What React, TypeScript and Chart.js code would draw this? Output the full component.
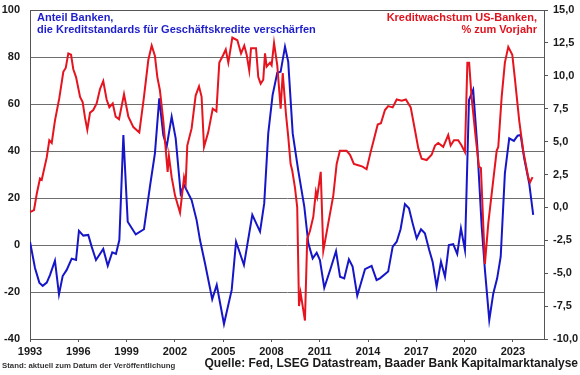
import React, { useEffect, useRef } from "react";
import { Chart, registerables } from "chart.js";

Chart.register(...registerables);

// Blue: share of banks tightening credit standards for C&I loans (left axis, %)
const blueYears = [
  1993.0, 1993.31, 1993.58, 1993.79, 1994.04, 1994.24, 1994.55, 1994.8, 1995.03, 1995.28,
  1995.59, 1995.86, 1996.04, 1996.31, 1996.62, 1996.83, 1997.1, 1997.55, 1997.83, 1998.11,
  1998.34, 1998.55, 1998.8, 1999.07, 1999.57, 2000.08, 2000.45, 2000.76, 2001.03, 2001.28,
  2001.49, 2001.8, 2002.05, 2002.36, 2002.57, 2003.04, 2003.35, 2003.56, 2003.87, 2004.32,
  2004.6, 2005.05, 2005.53, 2005.8, 2006.29, 2006.81, 2007.29, 2007.55, 2007.8, 2008.07,
  2008.36, 2008.57, 2008.84, 2009.04, 2009.32, 2009.66, 2010.04, 2010.29, 2010.56, 2010.81,
  2011.01, 2011.28, 2011.68, 2012.01, 2012.26, 2012.52, 2012.81, 2013.04, 2013.33, 2013.81,
  2014.22, 2014.53, 2014.74, 2015.25, 2015.53, 2015.78, 2016.02, 2016.29, 2016.54, 2016.77,
  2017.02, 2017.29, 2017.53, 2017.8, 2018.01, 2018.26, 2018.53, 2018.78, 2019.02, 2019.29,
  2019.54, 2019.77, 2020.02, 2020.27, 2020.53, 2020.78, 2021.06, 2021.26, 2021.53, 2021.78,
  2022.02, 2022.24, 2022.5, 2022.77, 2023.06, 2023.29, 2023.48, 2023.7, 2024.01, 2024.26,
];
const blueValues = [
  1.4, -9.8, -16, -17.4, -16, -12.8, -6.7, -21, -13.2, -10.6,
  -5.8, -6.4, 6, 4, 4.3, -0.7, -6.4, -1.7, -8.8, -3.1,
  -3.8, 2.1, 46.8, 9.9, 4.5, 6.7, 24.8, 39, 62.4, 46.8,
  41.8, 54.6, 45.4, 22, 25.5, 19.1, 10.6, 2.1, -7.8, -23.1,
  -17, -33.6, -19.1, 1.4, -8.5, 12.8, 5.7, 17.7, 47.5, 63.8,
  73.3, 73.7, 84.4, 78, 47.5, 31.9, 16.3, 0.7, -5.7, -3.3,
  -6.4, -18.2, -9.9, -2.6, -13.5, -14.2, -6.1, -9.2, -21.6, -10.3,
  -8.9, -14.9, -14.2, -11.3, -0.7, 1.4, 6.7, 17.4, 15.6, 9.2,
  2.8, 6.7, 5, -2.1, -7.1, -17.7, -7.1, -13.5, 0, 0.4,
  -3.8, 7.1, -2.1, 61.7, 66, 42.6, 7.8, -10.6, -31.9, -20.6,
  -14.2, -5, 30.5, 45.4, 44.3, 46.5, 46.8, 36.9, 26.3, 12.8,
];

// Red: credit growth of US banks, % y/y (right axis)
const redYears = [
  1993.0, 1993.25, 1993.42, 1993.62, 1993.73, 1994.04, 1994.2, 1994.35, 1994.55, 1994.82,
  1995.07, 1995.22, 1995.38, 1995.55, 1995.69, 1995.86, 1996.11, 1996.27, 1996.42, 1996.56,
  1996.73, 1996.93, 1997.14, 1997.35, 1997.55, 1997.76, 1997.93, 1998.14, 1998.32, 1998.53,
  1998.84, 1999.11, 1999.42, 1999.79, 2000.08, 2000.35, 2000.56, 2000.76, 2000.91, 2001.07,
  2001.28, 2001.55, 2001.63, 2001.8, 2002.01, 2002.32, 2002.57, 2002.67, 2002.77, 2003.04,
  2003.29, 2003.5, 2003.66, 2003.81, 2004.07, 2004.35, 2004.58, 2004.76, 2005.01, 2005.16,
  2005.32, 2005.57, 2005.88, 2006.11, 2006.31, 2006.46, 2006.62, 2006.73, 2007.04, 2007.18,
  2007.33, 2007.49, 2007.6, 2007.7, 2007.91, 2008.01, 2008.16, 2008.36, 2008.57, 2008.7,
  2008.9, 2009.04, 2009.19, 2009.29, 2009.46, 2009.6, 2009.71, 2009.81, 2010.08, 2010.22,
  2010.39, 2010.6, 2010.76, 2010.84, 2011.06, 2011.22, 2011.53, 2011.84, 2012.05, 2012.25,
  2012.5, 2012.67, 2012.88, 2013.12, 2013.39, 2013.66, 2013.91, 2014.16, 2014.37, 2014.6,
  2014.8, 2015.05, 2015.25, 2015.53, 2015.78, 2016.09, 2016.35, 2016.65, 2016.91, 2017.12,
  2017.33, 2017.64, 2017.95, 2018.16, 2018.36, 2018.67, 2018.98, 2019.13, 2019.34, 2019.6,
  2019.81, 2020.02, 2020.17, 2020.28, 2020.43, 2020.68, 2020.89, 2021.01, 2021.26, 2021.47,
  2021.78, 2021.99, 2022.09, 2022.3, 2022.5, 2022.71, 2022.96, 2023.12, 2023.39, 2023.64,
  2023.95, 2024.06, 2024.22,
];
const redValues = [
  -0.36, -0.2, 1.04, 2.2, 2.1, 3.8, 5.1, 4.9, 6.6, 8.3,
  10.3, 10.6, 11.7, 11.6, 10.5, 9.9, 8.4, 8.0, 6.8, 5.9,
  7.2, 7.4, 7.9, 9.0, 9.6, 8.2, 7.6, 7.9, 6.9, 6.7,
  8.6, 6.9, 6.1, 5.7, 8.4, 11.2, 12.3, 11.5, 9.9, 8.9,
  6.6, 2.7, 3.9, 2.3, 0.9, -0.4, 2.3, 1.8, 4.7, 6.0,
  8.5, 9.2, 8.4, 4.6, 5.7, 7.5, 7.3, 11.0, 11.6, 12.0,
  11.0, 12.9, 12.7, 11.7, 12.3, 11.6, 10.4, 12.1, 12.1, 9.9,
  9.4, 9.7, 11.7, 10.7, 11.0, 10.8, 12.5, 10.8, 7.5, 10.2,
  7.1, 5.4, 3.3, 2.8, 1.5, 0.0, -7.5, -6.5, -8.6, -2.4,
  -1.8, -0.7, 1.2, 0.8, 2.7, -3.3, -1.2, 0.9, 3.3, 4.3,
  4.3, 4.3, 4.0, 3.3, 3.2, 3.1, 2.9, 4.2, 5.2, 6.3,
  6.4, 7.4, 7.7, 7.6, 8.2, 8.1, 8.2, 7.6, 5.9, 4.5,
  3.7, 3.6, 4.0, 4.7, 4.9, 4.6, 5.5, 4.7, 5.1, 5.1,
  4.7, 4.2, 11.0, 11.0, 8.4, 5.4, 3.1, 3.0, -4.3, -1.2,
  2.1, 4.3, 4.6, 8.4, 11.0, 12.2, 11.6, 9.8, 6.6, 4.3,
  2.3, 1.9, 2.3,
];

const xTickYears = [1993, 1996, 1999, 2002, 2005, 2008, 2011, 2014, 2017, 2020, 2023];
const xMin = 1993;
const xMax = 2024.93;

const BLUE = "#1616C8";
const RED = "#E6141E";
const AXIS_TEXT = "#1a1a1a";
const FONT = "'Liberation Sans', Arial, sans-serif";

const frame = {
  id: "frame",
  afterDraw(chart: any) {
    const { ctx, chartArea } = chart;
    ctx.save();
    ctx.strokeStyle = "#555";
    ctx.lineWidth = 1;
    ctx.beginPath();
    ctx.moveTo(chartArea.left, Math.round(chartArea.top) + 0.5);
    ctx.lineTo(chartArea.right, Math.round(chartArea.top) + 0.5);
    ctx.stroke();
    ctx.restore();
  },
};

export default function App() {
  const ref = useRef<HTMLCanvasElement>(null);

  useEffect(() => {
    const red = redYears.map((x, i) => ({ x, y: redValues[i] }));
    const blue = blueYears.map((x, i) => ({ x, y: blueValues[i] }));
    const chart = new Chart(ref.current as HTMLCanvasElement, {
      type: "line",
      data: {
        datasets: [
          {
            label: "Kreditwachstum US-Banken, % zum Vorjahr",
            data: red,
            yAxisID: "y1",
            borderColor: RED,
            borderWidth: 2,
            pointRadius: 0,
            tension: 0,
            order: 0,
          },
          {
            label: "Anteil Banken, die Kreditstandards für Geschäftskredite verschärfen",
            data: blue,
            yAxisID: "y",
            borderColor: BLUE,
            borderWidth: 2,
            pointRadius: 0,
            tension: 0,
            order: 1,
          },
        ],
      },
      options: {
        responsive: false,
        animation: false,
        layout: { padding: { top: 10, left: 0, right: 0, bottom: 0 } },
        plugins: { legend: { display: false }, tooltip: { enabled: false } },
        scales: {
          x: {
            type: "linear",
            min: xMin,
            max: xMax,
            afterBuildTicks: (scale: any) => {
              scale.ticks = xTickYears.map((v) => ({ value: v }));
            },
            afterFit: (scale: any) => {
              scale.height = 36;
            },
            grid: { drawOnChartArea: false, drawTicks: true, tickLength: 3, color: "#555" },
            border: { display: true, color: "#555", width: 1 },
            ticks: {
              autoSkip: false,
              maxRotation: 0,
              padding: 3,
              color: AXIS_TEXT,
              font: { family: FONT, size: 11, weight: "bold" },
              callback: (v: any) => String(v),
            },
          },
          y: {
            position: "left",
            min: -40,
            max: 100,
            afterFit: (scale: any) => {
              scale.width = 30;
              scale.paddingTop = 0;
              scale.paddingBottom = 0;
            },
            grid: { drawTicks: false, color: "#6e6e6e", lineWidth: 1 },
            border: { display: true, color: "#555", width: 1 },
            ticks: {
              stepSize: 20,
              padding: 10,
              color: AXIS_TEXT,
              font: { family: FONT, size: 11, weight: "bold" },
            },
          },
          y1: {
            position: "right",
            min: -10,
            max: 15,
            afterFit: (scale: any) => {
              scale.width = 36;
              scale.paddingTop = 0;
              scale.paddingBottom = 0;
            },
            grid: { drawOnChartArea: false, drawTicks: true, tickLength: 4, color: "#555" },
            border: { display: true, color: "#555", width: 1 },
            ticks: {
              stepSize: 2.5,
              padding: 5,
              color: AXIS_TEXT,
              font: { family: FONT, size: 11, weight: "bold" },
              callback: (v: any) => Number(v).toFixed(1).replace(".", ","),
            },
          },
        },
      },
      plugins: [frame],
    });
    return () => chart.destroy();
  }, []);

  return (
    <div
      style={{
        position: "absolute",
        left: 0,
        top: 0,
        width: 580,
        height: 375,
        background: "#fff",
        fontFamily: FONT,
        overflow: "hidden",
      }}
    >
      <canvas ref={ref} width={580} height={375} style={{ position: "absolute", left: 0, top: 0 }} />
      <div
        style={{
          position: "absolute",
          left: 37,
          top: 11,
          fontSize: 11,
          lineHeight: "12px",
          fontWeight: "bold",
          color: "#1E1ECC",
          whiteSpace: "nowrap",
        }}
      >
        Anteil Banken,
        <br />
        die Kreditstandards für Geschäftskredite verschärfen
      </div>
      <div
        style={{
          position: "absolute",
          right: 43,
          top: 11,
          fontSize: 11,
          lineHeight: "12px",
          fontWeight: "bold",
          color: "#E0141E",
          textAlign: "right",
          whiteSpace: "nowrap",
        }}
      >
        Kreditwachstum US-Banken,
        <br />% zum Vorjahr
      </div>
      <div
        style={{
          position: "absolute",
          left: 2,
          top: 361,
          fontSize: 7.8,
          lineHeight: "10px",
          fontWeight: "bold",
          color: "#333",
          whiteSpace: "nowrap",
        }}
      >
        Stand: aktuell zum Datum der Veröffentlichung
      </div>
      <div
        style={{
          position: "absolute",
          right: 2,
          top: 357,
          fontSize: 12,
          lineHeight: "13px",
          fontWeight: "bold",
          color: "#1a1a1a",
          whiteSpace: "nowrap",
        }}
      >
        Quelle: Fed, LSEG Datastream, Baader Bank Kapitalmarktanalyse
      </div>
    </div>
  );
}
